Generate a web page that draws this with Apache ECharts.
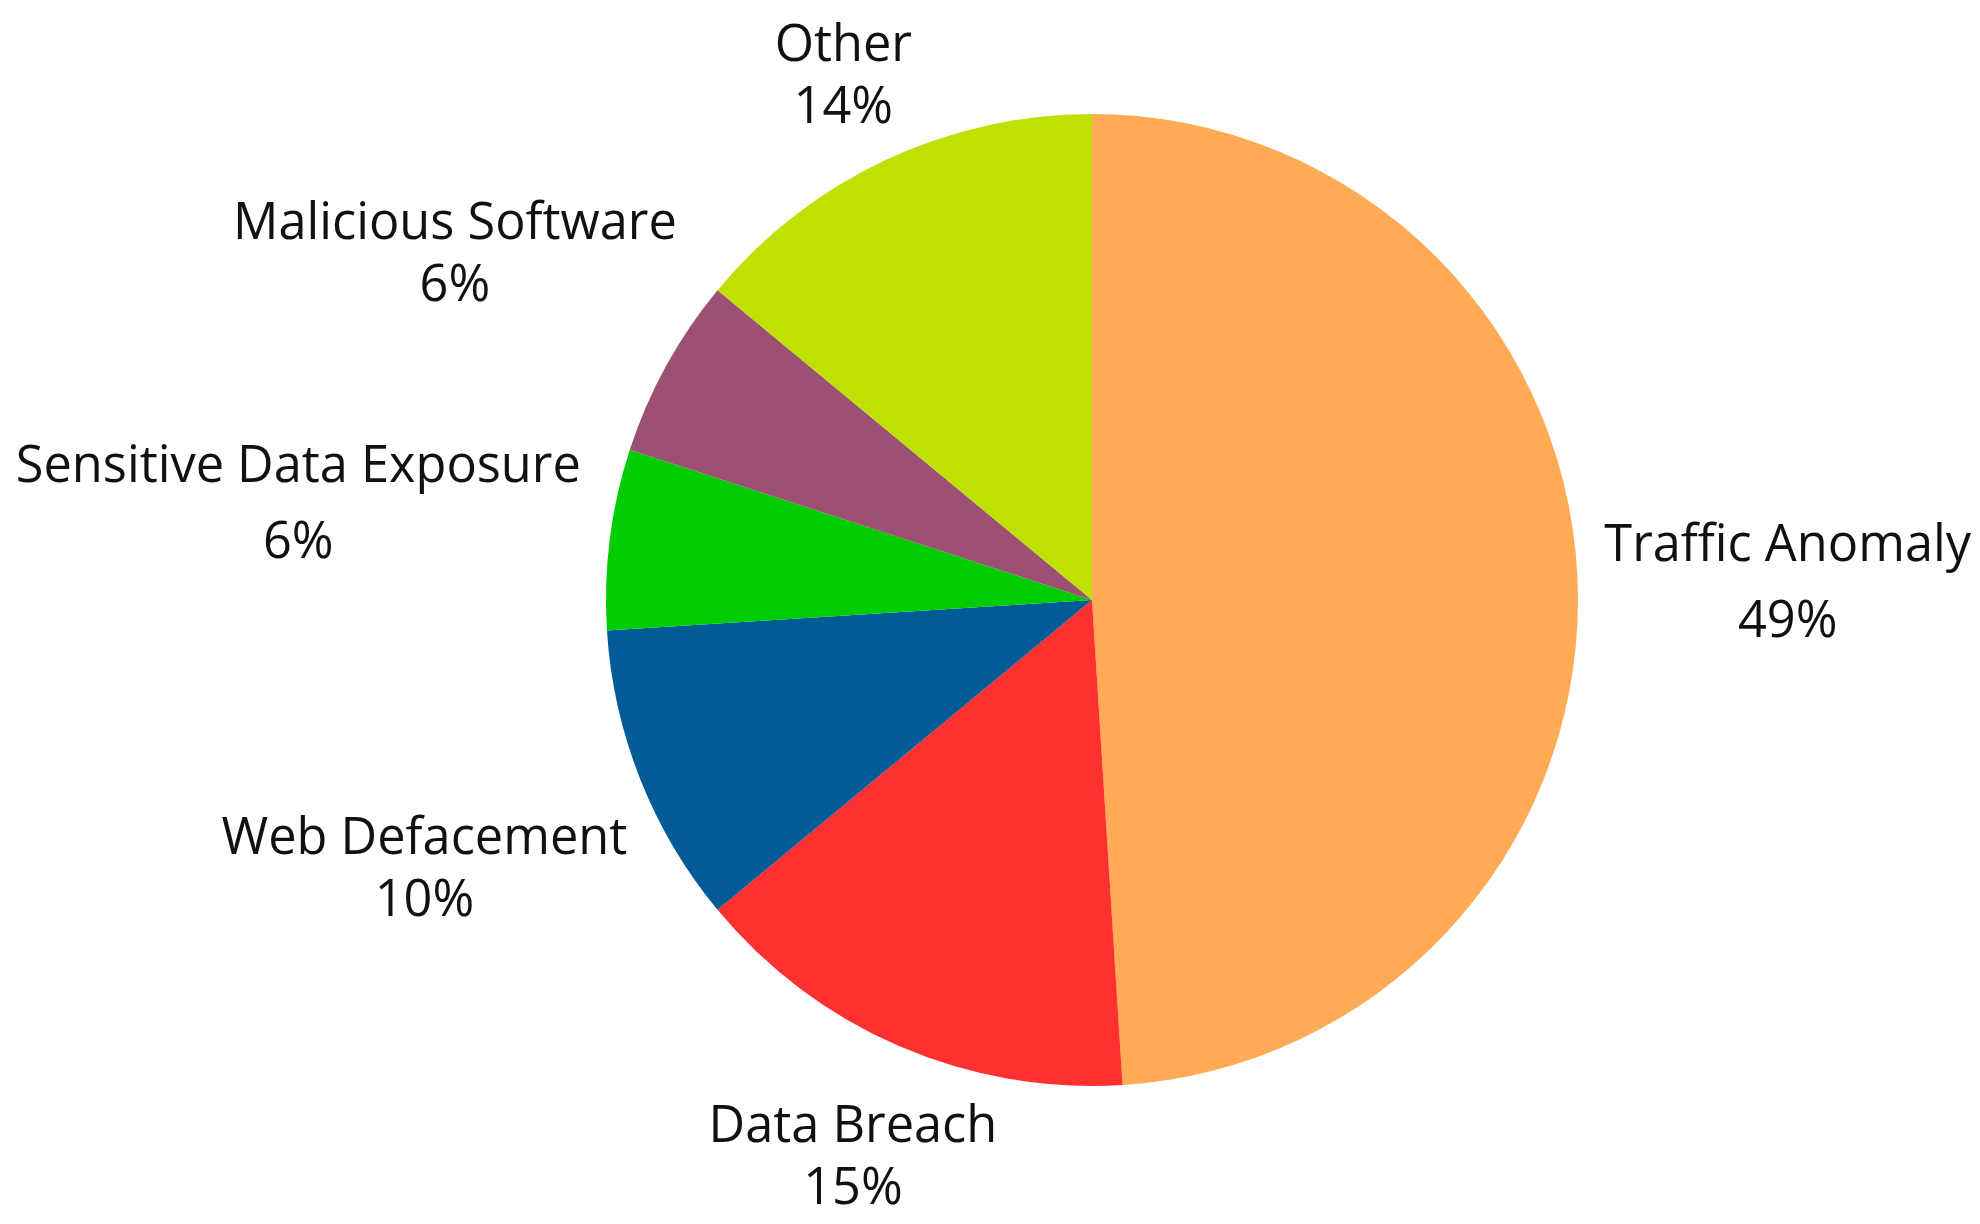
<!DOCTYPE html>
<html>
<head>
<meta charset="utf-8">
<title>Incident types</title>
<script src="https://cdn.jsdelivr.net/npm/echarts@6/dist/echarts.min.js"></script>
<style>
    html, body { margin: 0; padding: 0; background: #ffffff; }
    #chart { width: 1980px; height: 1224px; }
</style>
</head>
<body>
<div id="chart"></div>
<script>
// 数据（顺时针，从12点方向开始）
const categories = ['Traffic Anomaly', 'Data Breach', 'Web Defacement', 'Sensitive Data Exposure', 'Malicious Software', 'Other'];
const shares = [49, 15, 10, 6, 6, 14];
const colors = ['#ffaa55', '#ff3030', '#005b96', '#00cc00', '#9b5074', '#bfe000'];
// 这两个标签的行距更大
const looseLabels = ['Traffic Anomaly', 'Sensitive Data Exposure'];

// 饼图几何
const CX = 1092;
const CY = 600;
const R = 486;
const LABEL_GAP = 26;
const BOX_TRIM = 13; // 行高留白，不算进标签框
const TEXT_DROP = 6; // 字形在行框里偏上，整体下移一点

// 每个扇区中间角度（屏幕坐标方向）
const total = shares.reduce((a, b) => a + b, 0);
const midDirs = [];
let acc = 0;
shares.forEach(v => {
    const mid = (acc + v / 2) / total * Math.PI * 2; // 从顶部顺时针
    midDirs.push([Math.sin(mid), -Math.cos(mid)]);
    acc += v;
});

// 沿径向推开标签，直到标签框离圆边 LABEL_GAP
function placeLabel(params) {
    const [ux, uy] = midDirs[params.dataIndex];
    const hw = params.labelRect.width / 2;
    const hh = params.labelRect.height / 2 - BOX_TRIM;
    let d = R;
    for (; d < R + 600; d += 1) {
        const cx = ux * d, cy = uy * d;
        const px = Math.max(cx - hw, Math.min(0, cx + hw));
        const py = Math.max(cy - hh, Math.min(0, cy + hh));
        if (Math.hypot(px, py) >= R + LABEL_GAP) break;
    }
    return {
        x: CX + ux * d,
        y: CY + uy * d + TEXT_DROP,
        align: 'center',
        verticalAlign: 'middle'
    };
}

const chart = echarts.init(document.getElementById('chart'));
chart.setOption({
    animation: false,
    backgroundColor: '#ffffff',
    series: [{
        type: 'pie',
        center: [CX, CY],
        radius: R,
        startAngle: 90,
        clockwise: true,
        percentPrecision: 0,
        avoidLabelOverlap: false,
        emphasis: { disabled: true },
        itemStyle: { borderWidth: 0 },
        label: {
            show: true,
            position: 'outside',
            formatter: '{b}\n{d}%',
            fontFamily: '"Open Sans", "Noto Sans", sans-serif',
            fontSize: 50.5,
            lineHeight: 62,
            color: '#111111',
            align: 'center'
        },
        labelLine: { show: false },
        labelLayout: placeLabel,
        data: categories.map((name, i) => ({
            name,
            value: shares[i],
            itemStyle: { color: colors[i] },
            label: looseLabels.includes(name) ? { lineHeight: 76 } : undefined
        }))
    }]
});
</script>
</body>
</html>
